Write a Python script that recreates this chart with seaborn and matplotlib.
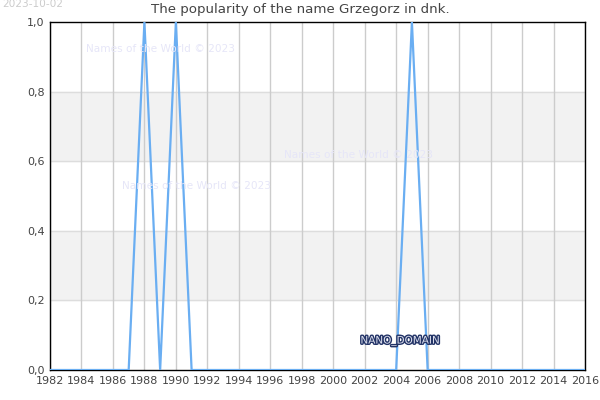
import numpy as np
import pandas as pd
import matplotlib
matplotlib.use("Agg")
import matplotlib.pyplot as plt
import matplotlib.patheffects as pe
import seaborn as sns

# data
years = list(range(1982, 2017))
peak_years = [1988, 1990, 2005]
popularity = [1.0 if y in peak_years else 0.0 for y in years]
x_ticks = list(range(1982, 2017, 2))
y_ticks = [0.0, 0.2, 0.4, 0.6, 0.8, 1.0]
y_labels = ["0,0", "0,2", "0,4", "0,6", "0,8", "1,0"]

df = pd.DataFrame({"year": years, "popularity": popularity})

sns.set_style("white")
plt.rcParams["font.family"] = ["DejaVu Sans"]

fig = plt.figure(figsize=(6, 4), dpi=100)
ax = fig.add_axes([50 / 600, 1 - 370 / 400, 535 / 600, 348 / 400])

# grey bands
for lo, hi in [(0.2, 0.4), (0.6, 0.8)]:
    ax.axhspan(lo, hi, color="#f2f2f2", zorder=0)
    ax.axhline(lo, color="#dddddd", lw=1, zorder=0.5)
    ax.axhline(hi, color="#dddddd", lw=1, zorder=0.5)

for x in x_ticks:
    ax.axvline(x, color="#cccccc", lw=1, zorder=0.6)

sns.lineplot(data=df, x="year", y="popularity", ax=ax, color="#6aaef2",
             lw=1.6, zorder=3)

ax.set_xlim(1982, 2016)
ax.set_ylim(0, 1)
ax.set_xticks(x_ticks)
ax.set_xticklabels([str(x) for x in x_ticks], fontsize=8, color="#444444")
ax.set_yticks(y_ticks)
ax.set_yticklabels(y_labels, fontsize=8, color="#444444")
ax.set_xlabel("")
ax.set_ylabel("")
ax.tick_params(length=0, pad=4)
for s in ax.spines.values():
    s.set_color("black")
    s.set_linewidth(1)

# watermarks
wm = dict(fontsize=7.6, color="#e6e6f8", ha="center", va="center", zorder=1)
fig.text(161 / 600, 1 - 49 / 400, "Names of the World © 2023", **wm)
fig.text(358 / 600, 1 - 155 / 400, "Names of the World © 2023", **wm)
fig.text(197 / 600, 1 - 186 / 400, "Names of the World © 2023", **wm)

t = fig.text(400 / 600, 1 - 341 / 400, "NANO_DOMAIN", fontsize=7.5,
             color="#dde0ee", ha="center", va="center")
t.set_path_effects([pe.withStroke(linewidth=2, foreground="#223366")])

fig.text(300 / 600, 1 - 10 / 400, "The popularity of the name Grzegorz in dnk.",
         fontsize=9.6, color="#444444", ha="center", va="center")
fig.text(2 / 600, 1 - 4 / 400, "2023-10-02", fontsize=7.6, color="#cccccc",
         ha="left", va="center")

fig.savefig("out.png", dpi=100)
